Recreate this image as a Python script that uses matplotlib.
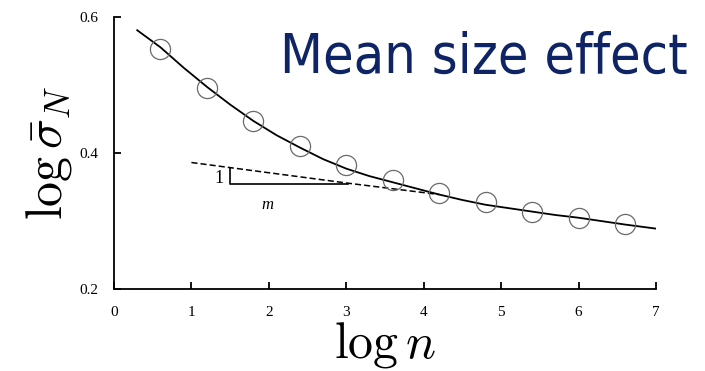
import matplotlib
matplotlib.use("Agg")
import matplotlib.pyplot as plt

plt.rcParams["mathtext.fontset"] = "cm"

# measured points (open circles)
log_n_pts = [0.6, 1.2, 1.8, 2.4, 3.0, 3.6, 4.2, 4.8, 5.4, 6.0, 6.6]
log_sig_pts = [0.553, 0.495, 0.447, 0.410, 0.382, 0.360, 0.341, 0.328, 0.314, 0.304, 0.296]

# fitted curve (solid)
log_n_fit = [0.3, 0.6, 0.9, 1.2, 1.5, 1.8, 2.1, 2.4, 2.7, 3.0, 3.3, 3.6,
             3.9, 4.2, 4.5, 4.8, 5.1, 5.4, 5.7, 6.0, 6.3, 6.6, 7.0]
log_sig_fit = [0.580, 0.555, 0.525, 0.497, 0.471, 0.447, 0.426, 0.408, 0.391,
               0.377, 0.366, 0.357, 0.348, 0.339, 0.331, 0.324, 0.319, 0.314,
               0.309, 0.305, 0.300, 0.295, 0.289]

# asymptote (dashed)
log_n_asym = [1.0, 2.0, 3.0, 4.2]
log_sig_asym = [0.386, 0.371, 0.356, 0.339]

# slope triangle
tri_x = [1.5, 1.5, 3.02]
tri_y = [0.378, 0.355, 0.355]

serif = ["Liberation Serif", "DejaVu Serif"]

fig = plt.figure(figsize=(7.05, 3.71), dpi=100)
ax = fig.add_axes([0.1617, 0.2202, 0.7688, 0.735])

ax.plot(log_n_fit, log_sig_fit, color="black", lw=1.3, zorder=3)
ax.plot(log_n_asym, log_sig_asym, color="black", lw=1.1, ls=(0, (4, 2)), zorder=3)
ax.plot(tri_x, tri_y, color="black", lw=1.2, zorder=3)
ax.plot(log_n_pts, log_sig_pts, ls="none", marker="o", ms=14.5, mfc="none",
        mec="#6a6a6a", mew=0.9, zorder=4)

ax.text(1.36, 0.362, "1", family=serif, fontsize=13, ha="center", va="center")
ax.text(1.98, 0.324, "m", family=serif, style="italic", fontsize=12,
        ha="center", va="center")

ax.set_xlim(0, 7)
ax.set_ylim(0.2, 0.6)
ax.set_xticks(range(0, 8))
ax.set_yticks([0.2, 0.4, 0.6])
ax.set_yticklabels(["0.2", "0.4", "0.6"])
for s in ["top", "right"]:
    ax.spines[s].set_visible(False)
for s in ["left", "bottom"]:
    ax.spines[s].set_linewidth(1.3)
ax.tick_params(axis="both", direction="in", length=5, width=1.3)
ax.tick_params(axis="y", pad=11)
ax.tick_params(axis="x", pad=12)
for lab in ax.get_xticklabels() + ax.get_yticklabels():
    lab.set_family(serif)
    lab.set_fontsize(11)

ax.set_xlabel(r"$\log n$", fontsize=36, labelpad=1)
ax.set_ylabel(r"$\log\bar{\sigma}_N$", fontsize=36, labelpad=4)

fig.text(0.976, 0.845, "Mean size effect", color="#0f2464",
         family="DejaVu Sans", stretch="condensed", fontsize=40,
         ha="right", va="center")

fig.savefig("out.png", dpi=100)
